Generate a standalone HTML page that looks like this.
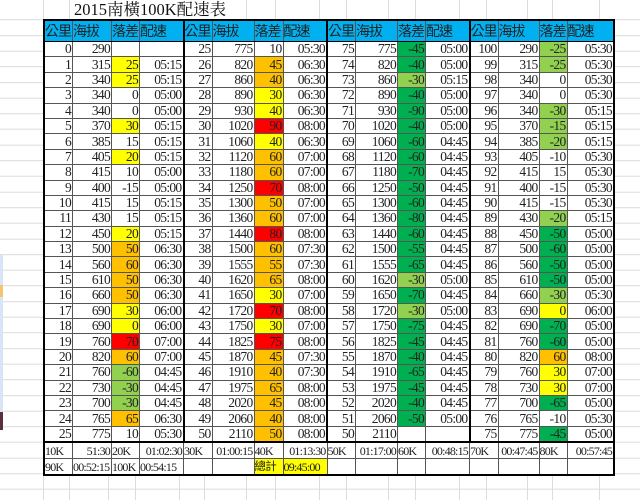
<!DOCTYPE html>
<html><head><meta charset="utf-8"><style>
body{margin:0;width:640px;height:500px;overflow:hidden;background:#fff;position:relative;
background-image:repeating-linear-gradient(to bottom,transparent 0,transparent 14.65px,#dcdcdc 14.65px,#dcdcdc 15.65px);background-position:0 4.7px;}
.vl{position:absolute;top:0;height:500px;width:1px;background:#dcdcdc}
#t{position:absolute;left:70px;top:0px;font:16.5px "Liberation Serif","Noto Serif CJK SC",serif;color:#111;background:#fff;padding:0 4px;height:19px;line-height:20px}
table{position:absolute;left:43px;top:19px;border-collapse:collapse;table-layout:fixed;background:#fff}
td{border:1px solid #555;padding:0 1px 0 0;height:14.4px;font:13.5px "Liberation Serif",serif;letter-spacing:-0.7px;color:#222;text-align:right;white-space:nowrap;overflow:hidden;line-height:14px}
tr.h td{background:#00b0f0;text-align:left;font:14px "Liberation Sans","Noto Sans CJK TC",sans-serif;letter-spacing:-1px;height:15.5px;border-top:2px solid #000;border-bottom:1px solid #000;color:#222}
td.b{border-left:2px solid #000}
td.e{border-right:2px solid #000}
.y{background:#ffff00}.o{background:#ffc000}.r{background:#ff0000}.g{background:#00b050}.l{background:#92d050}
tr.last td{border-bottom:2px solid #000}
tr.f td{text-align:left;font-size:12px;height:15px;letter-spacing:-0.8px}
tr.f2 td{border-bottom:2px solid #000}
tr.f td.rt{text-align:right}
.cj{font-family:"Liberation Sans","Noto Sans CJK TC",sans-serif!important;font-size:11.5px!important}
</style></head><body>
<div style="position:absolute;left:0;top:255px;width:3px;height:160px;background:#d6e6f7"></div>
<div style="position:absolute;left:0;top:285px;width:3px;height:12px;background:#f5c56e"></div>
<div style="position:absolute;left:0;top:412px;width:3px;height:18px;background:#5a3040"></div>
<div class="vl" style="left:43px"></div><div class="vl" style="left:69px"></div><div class="vl" style="left:108px"></div><div class="vl" style="left:135px"></div><div class="vl" style="left:179px"></div><div class="vl" style="left:204px"></div><div class="vl" style="left:246px"></div><div class="vl" style="left:275px"></div><div class="vl" style="left:319px"></div><div class="vl" style="left:346px"></div><div class="vl" style="left:388px"></div><div class="vl" style="left:415px"></div><div class="vl" style="left:459px"></div><div class="vl" style="left:486px"></div><div class="vl" style="left:527px"></div><div class="vl" style="left:552px"></div><div class="vl" style="left:599px"></div>
<div id="t">2015南橫100K配速表</div>
<table>
<colgroup><col style="width:26px"><col style="width:39px"><col style="width:27px"><col style="width:44px"><col style="width:25px"><col style="width:42px"><col style="width:29px"><col style="width:44px"><col style="width:27px"><col style="width:42px"><col style="width:27px"><col style="width:44px"><col style="width:27px"><col style="width:41px"><col style="width:25px"><col style="width:47px"></colgroup>
<tr class="h"><td class="b">公里</td><td>海拔</td><td>落差</td><td>配速</td><td class="b">公里</td><td>海拔</td><td>落差</td><td>配速</td><td class="b">公里</td><td>海拔</td><td>落差</td><td>配速</td><td class="b">公里</td><td>海拔</td><td>落差</td><td class="e">配速</td></tr>
<tr><td class="b">0</td><td>290</td><td></td><td></td><td class="b">25</td><td>775</td><td>10</td><td>05:30</td><td class="b">75</td><td>775</td><td class="g">-45</td><td>05:00</td><td class="b">100</td><td>290</td><td class="l">-25</td><td class="e">05:30</td></tr>
<tr><td class="b">1</td><td>315</td><td class="y">25</td><td>05:15</td><td class="b">26</td><td>820</td><td class="o">45</td><td>06:30</td><td class="b">74</td><td>820</td><td class="g">-40</td><td>05:00</td><td class="b">99</td><td>315</td><td class="l">-25</td><td class="e">05:30</td></tr>
<tr><td class="b">2</td><td>340</td><td class="y">25</td><td>05:15</td><td class="b">27</td><td>860</td><td class="o">40</td><td>06:30</td><td class="b">73</td><td>860</td><td class="l">-30</td><td>05:15</td><td class="b">98</td><td>340</td><td>0</td><td class="e">05:30</td></tr>
<tr><td class="b">3</td><td>340</td><td>0</td><td>05:00</td><td class="b">28</td><td>890</td><td class="y">30</td><td>06:30</td><td class="b">72</td><td>890</td><td class="g">-40</td><td>05:00</td><td class="b">97</td><td>340</td><td>0</td><td class="e">05:30</td></tr>
<tr><td class="b">4</td><td>340</td><td>0</td><td>05:00</td><td class="b">29</td><td>930</td><td class="y">40</td><td>06:30</td><td class="b">71</td><td>930</td><td class="g">-90</td><td>05:00</td><td class="b">96</td><td>340</td><td class="l">-30</td><td class="e">05:15</td></tr>
<tr><td class="b">5</td><td>370</td><td class="y">30</td><td>05:15</td><td class="b">30</td><td>1020</td><td class="r">90</td><td>08:00</td><td class="b">70</td><td>1020</td><td class="g">-40</td><td>05:00</td><td class="b">95</td><td>370</td><td class="l">-15</td><td class="e">05:15</td></tr>
<tr><td class="b">6</td><td>385</td><td>15</td><td>05:15</td><td class="b">31</td><td>1060</td><td class="y">40</td><td>06:30</td><td class="b">69</td><td>1060</td><td class="g">-60</td><td>04:45</td><td class="b">94</td><td>385</td><td class="l">-20</td><td class="e">05:15</td></tr>
<tr><td class="b">7</td><td>405</td><td class="y">20</td><td>05:15</td><td class="b">32</td><td>1120</td><td class="o">60</td><td>07:00</td><td class="b">68</td><td>1120</td><td class="g">-60</td><td>04:45</td><td class="b">93</td><td>405</td><td>-10</td><td class="e">05:30</td></tr>
<tr><td class="b">8</td><td>415</td><td>10</td><td>05:00</td><td class="b">33</td><td>1180</td><td class="o">60</td><td>07:00</td><td class="b">67</td><td>1180</td><td class="g">-70</td><td>04:45</td><td class="b">92</td><td>415</td><td>15</td><td class="e">05:30</td></tr>
<tr><td class="b">9</td><td>400</td><td>-15</td><td>05:00</td><td class="b">34</td><td>1250</td><td class="r">70</td><td>08:00</td><td class="b">66</td><td>1250</td><td class="g">-50</td><td>04:45</td><td class="b">91</td><td>400</td><td>-15</td><td class="e">05:30</td></tr>
<tr><td class="b">10</td><td>415</td><td>15</td><td>05:15</td><td class="b">35</td><td>1300</td><td class="o">50</td><td>07:00</td><td class="b">65</td><td>1300</td><td class="g">-60</td><td>04:45</td><td class="b">90</td><td>415</td><td>-15</td><td class="e">05:30</td></tr>
<tr><td class="b">11</td><td>430</td><td>15</td><td>05:15</td><td class="b">36</td><td>1360</td><td class="o">60</td><td>07:00</td><td class="b">64</td><td>1360</td><td class="g">-80</td><td>04:45</td><td class="b">89</td><td>430</td><td class="l">-20</td><td class="e">05:15</td></tr>
<tr><td class="b">12</td><td>450</td><td class="y">20</td><td>05:15</td><td class="b">37</td><td>1440</td><td class="r">80</td><td>08:00</td><td class="b">63</td><td>1440</td><td class="g">-60</td><td>04:45</td><td class="b">88</td><td>450</td><td class="g">-50</td><td class="e">05:00</td></tr>
<tr><td class="b">13</td><td>500</td><td class="o">50</td><td>06:30</td><td class="b">38</td><td>1500</td><td class="o">60</td><td>07:30</td><td class="b">62</td><td>1500</td><td class="g">-55</td><td>04:45</td><td class="b">87</td><td>500</td><td class="g">-60</td><td class="e">05:00</td></tr>
<tr><td class="b">14</td><td>560</td><td class="o">60</td><td>06:30</td><td class="b">39</td><td>1555</td><td class="o">55</td><td>07:30</td><td class="b">61</td><td>1555</td><td class="g">-65</td><td>04:45</td><td class="b">86</td><td>560</td><td class="g">-50</td><td class="e">05:00</td></tr>
<tr><td class="b">15</td><td>610</td><td class="o">50</td><td>06:30</td><td class="b">40</td><td>1620</td><td class="o">65</td><td>08:00</td><td class="b">60</td><td>1620</td><td class="l">-30</td><td>05:00</td><td class="b">85</td><td>610</td><td class="g">-50</td><td class="e">05:00</td></tr>
<tr><td class="b">16</td><td>660</td><td class="o">50</td><td>06:30</td><td class="b">41</td><td>1650</td><td class="y">30</td><td>07:00</td><td class="b">59</td><td>1650</td><td class="g">-70</td><td>04:45</td><td class="b">84</td><td>660</td><td class="l">-30</td><td class="e">05:30</td></tr>
<tr><td class="b">17</td><td>690</td><td class="y">30</td><td>06:00</td><td class="b">42</td><td>1720</td><td class="r">70</td><td>08:00</td><td class="b">58</td><td>1720</td><td class="l">-30</td><td>05:00</td><td class="b">83</td><td>690</td><td class="y">0</td><td class="e">06:00</td></tr>
<tr><td class="b">18</td><td>690</td><td class="y">0</td><td>06:00</td><td class="b">43</td><td>1750</td><td class="y">30</td><td>07:00</td><td class="b">57</td><td>1750</td><td class="g">-75</td><td>04:45</td><td class="b">82</td><td>690</td><td class="g">-70</td><td class="e">05:00</td></tr>
<tr><td class="b">19</td><td>760</td><td class="r">70</td><td>07:00</td><td class="b">44</td><td>1825</td><td class="r">75</td><td>08:00</td><td class="b">56</td><td>1825</td><td class="g">-45</td><td>04:45</td><td class="b">81</td><td>760</td><td class="g">-60</td><td class="e">05:00</td></tr>
<tr><td class="b">20</td><td>820</td><td class="o">60</td><td>07:00</td><td class="b">45</td><td>1870</td><td class="o">45</td><td>07:30</td><td class="b">55</td><td>1870</td><td class="g">-40</td><td>04:45</td><td class="b">80</td><td>820</td><td class="o">60</td><td class="e">08:00</td></tr>
<tr><td class="b">21</td><td>760</td><td class="l">-60</td><td>04:45</td><td class="b">46</td><td>1910</td><td class="o">40</td><td>07:30</td><td class="b">54</td><td>1910</td><td class="g">-65</td><td>04:45</td><td class="b">79</td><td>760</td><td class="y">30</td><td class="e">07:00</td></tr>
<tr><td class="b">22</td><td>730</td><td class="l">-30</td><td>04:45</td><td class="b">47</td><td>1975</td><td class="o">65</td><td>08:00</td><td class="b">53</td><td>1975</td><td class="g">-45</td><td>04:45</td><td class="b">78</td><td>730</td><td class="y">30</td><td class="e">07:00</td></tr>
<tr><td class="b">23</td><td>700</td><td class="l">-30</td><td>04:45</td><td class="b">48</td><td>2020</td><td class="o">45</td><td>08:00</td><td class="b">52</td><td>2020</td><td class="g">-40</td><td>04:45</td><td class="b">77</td><td>700</td><td class="g">-65</td><td class="e">05:00</td></tr>
<tr><td class="b">24</td><td>765</td><td class="o">65</td><td>06:30</td><td class="b">49</td><td>2060</td><td class="o">40</td><td>08:00</td><td class="b">51</td><td>2060</td><td class="g">-50</td><td>05:00</td><td class="b">76</td><td>765</td><td>-10</td><td class="e">05:30</td></tr>
<tr class="last"><td class="b">25</td><td>775</td><td>10</td><td>05:30</td><td class="b">50</td><td>2110</td><td class="o">50</td><td>08:00</td><td class="b">50</td><td>2110</td><td></td><td></td><td class="b">75</td><td>775</td><td class="g">-45</td><td class="e">05:00</td></tr>
<tr class="f"><td class="b">10K</td><td class="rt">51:30</td><td>20K</td><td class="rt">01:02:30</td><td>30K</td><td class="rt">01:00:15</td><td>40K</td><td class="rt">01:13:30</td><td>50K</td><td class="rt">01:17:00</td><td>60K</td><td class="rt">00:48:15</td><td>70K</td><td class="rt">00:47:45</td><td>80K</td><td class="rt e">00:57:45</td></tr>
<tr class="f f2"><td class="b">90K</td><td>00:52:15</td><td>100K</td><td>00:54:15</td><td></td><td></td><td class="y cj">總計</td><td class="y">09:45:00</td><td></td><td></td><td></td><td></td><td></td><td></td><td></td><td class="e"></td></tr>
</table>
</body></html>
